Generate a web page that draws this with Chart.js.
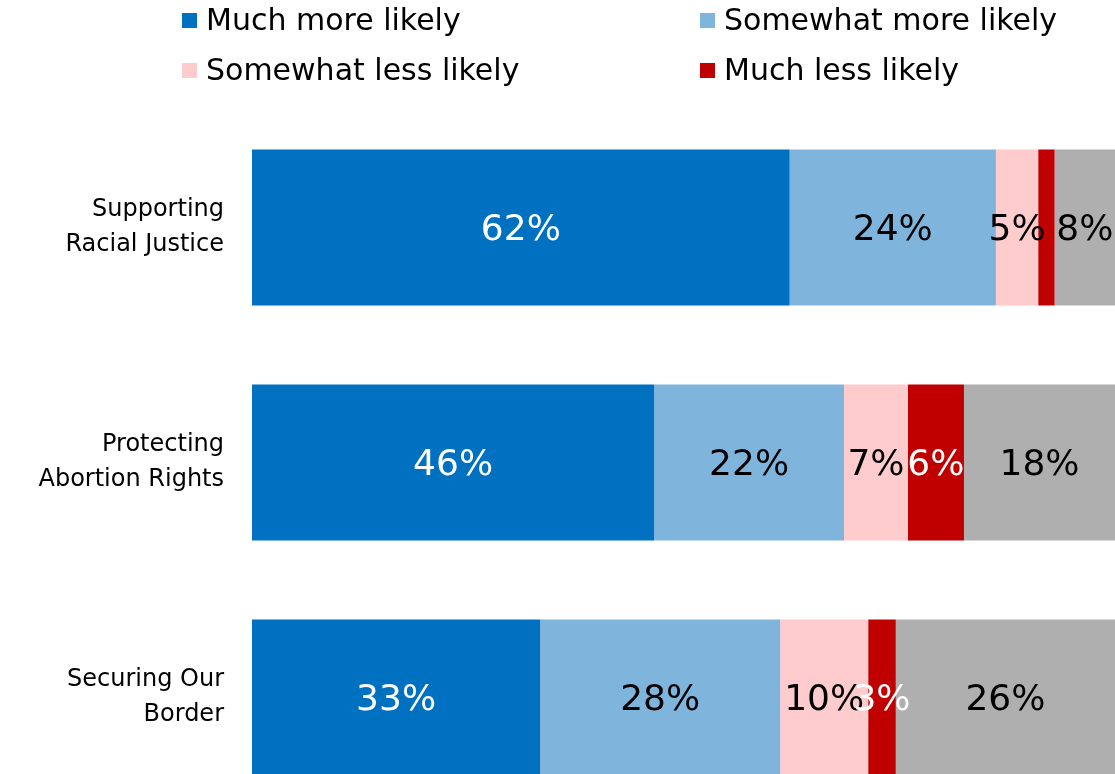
<!DOCTYPE html>
<html>
<head>
<meta charset="utf-8">
<script src="https://cdn.jsdelivr.net/npm/chart.js@4"></script>
<style>
  html, body { margin: 0; padding: 0; background: #fff; overflow: hidden; width: 1115px; height: 774px; }
  #c { position: absolute; left: 0; top: 0; }
  #legend { position: absolute; left: 0; top: 0; width: 1115px; height: 100px; font-family: "DejaVu Sans", sans-serif; font-weight: 400; font-size: 30px; color: #000; }
  .item { position: absolute; white-space: nowrap; line-height: 34px; }
  .sw { position: absolute; width: 15px; height: 15px; }
</style>
</head>
<body>
<canvas id="c" width="1115" height="815"></canvas>
<div id="legend"></div>
<script>
const categories = [["Supporting", "Racial Justice"], ["Protecting", "Abortion Rights"], ["Securing Our", "Border"]];
const seriesNames = ["Much more likely", "Somewhat more likely", "Somewhat less likely", "Much less likely", "No effect / Unsure"];
const seriesColors = ["#0070C0", "#7FB5DD", "#FFCCCD", "#C00000", "#AFAFAF"];
const labelColors = ["#FFFFFF", "#000000", "#000000", "#FFFFFF", "#000000"];
const inLegend = [true, true, true, true, false];

const muchMore     = [62.3, 46.6, 33.4];
const somewhatMore = [23.9, 22.0, 27.8];
const somewhatLess = [4.9, 7.4, 10.2];
const muchLess     = [1.9, 6.5, 3.2];
const other        = [8.0, 17.5, 25.4];

const muchMoreLbl     = ["62%", "46%", "33%"];
const somewhatMoreLbl = ["24%", "22%", "28%"];
const somewhatLessLbl = ["5%", "7%", "10%"];
const muchLessLbl     = ["", "6%", "3%"];
const otherLbl        = ["8%", "18%", "26%"];

const seriesValues = [muchMore, somewhatMore, somewhatLess, muchLess, other];
const seriesLabels = [muchMoreLbl, somewhatMoreLbl, somewhatLessLbl, muchLessLbl, otherLbl];

const FONT = '"DejaVu Sans", sans-serif';

// HTML legend (2 x 2 grid)
const legendPos = [[182, 0], [700, 0], [182, 50], [700, 50]];
const legendEl = document.getElementById('legend');
let li = 0;
seriesNames.forEach((n, i) => {
  if (!inLegend[i]) return;
  const p = legendPos[li++];
  const sw = document.createElement('div');
  sw.className = 'sw';
  sw.style.left = p[0] + 'px';
  sw.style.top = (p[1] + 13) + 'px';
  sw.style.background = seriesColors[i];
  legendEl.appendChild(sw);
  const tx = document.createElement('div');
  tx.className = 'item';
  tx.style.left = (p[0] + 24) + 'px';
  tx.style.top = (p[1] + 3) + 'px';
  tx.textContent = n;
  legendEl.appendChild(tx);
});

const barLabels = {
  id: 'barLabels',
  afterDatasetsDraw(chart) {
    const ctx = chart.ctx;
    const area = chart.chartArea;
    ctx.save();
    ctx.font = '400 36px ' + FONT;
    ctx.textAlign = 'center';
    ctx.textBaseline = 'middle';
    chart.data.datasets.forEach((ds, di) => {
      const meta = chart.getDatasetMeta(di);
      meta.data.forEach((el, i) => {
        const txt = seriesLabels[di][i];
        if (!txt) return;
        const x1 = Math.min(el.base, el.x), x2 = Math.min(Math.max(el.base, el.x), area.right);
        ctx.fillStyle = labelColors[di];
        ctx.fillText(txt, (x1 + x2) / 2, el.y + 3);
      });
    });
    ctx.restore();
  }
};

new Chart(document.getElementById('c'), {
  type: 'bar',
  data: {
    labels: categories,
    datasets: seriesValues.map((v, i) => ({
      label: seriesNames[i],
      data: v,
      backgroundColor: seriesColors[i],
      borderWidth: 0,
      barPercentage: 0.664,
      categoryPercentage: 1.0
    }))
  },
  options: {
    indexAxis: 'y',
    responsive: false,
    animation: false,
    layout: { padding: { top: 110, right: 0, bottom: 0, left: 0 } },
    plugins: { legend: { display: false }, tooltip: { enabled: false } },
    scales: {
      x: { stacked: true, min: 0, max: 100, display: false },
      y: {
        stacked: true,
        border: { display: false },
        grid: { display: false, drawTicks: false },
        ticks: {
          color: '#000',
          padding: 28,
          font: { family: FONT, size: 24, weight: '400', lineHeight: 1.45 }
        },
        afterFit(scale) {
          scale.width = 252;
          scale.paddingTop = 0;
          scale.paddingBottom = 0;
        }
      }
    }
  },
  plugins: [barLabels]
});
</script>
</body>
</html>
